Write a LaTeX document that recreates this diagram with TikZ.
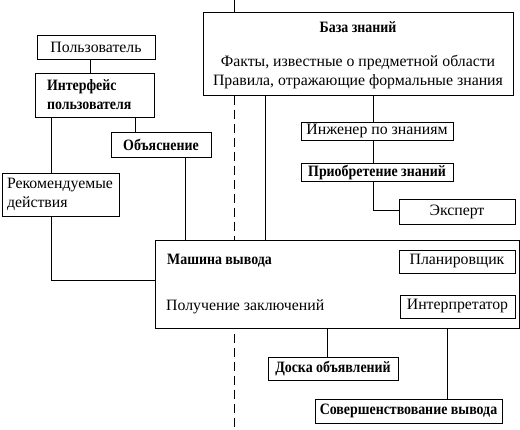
\documentclass[tikz,border=0pt]{standalone}
\usepackage{fontspec}
\setmainfont{Liberation Serif}
\newfontfamily\condfont{Liberation Serif}[FakeStretch=0.88]
\usepackage{tikz}
\usetikzlibrary{positioning, calc}
\tikzstyle{box} = [rectangle, draw=black, line width=0.8pt, fill=white, inner sep=0pt, text centered, font=\fontsize{15.8}{19}\selectfont]
\tikzstyle{boldbox} = [box, font=\fontsize{15.8}{19}\condfont\bfseries]
\tikzstyle{label} = [inner sep=0pt, font=\fontsize{15.8}{19}\selectfont]
\tikzstyle{link} = [line width=0.8pt]
\tikzstyle{divider} = [line width=0.8pt, dash pattern=on 9pt off 5pt]

\begin{document}
\begin{tikzpicture}[x=1pt, y=-1pt]
\useasboundingbox (0,0) rectangle (520,429);
\coordinate (topend) at (234,0);
\coordinate (bottomend) at (234,429);

% knowledge base
\node (kb) [box, minimum width=310pt, minimum height=83pt] at (358,54) {};
\node (kbtitle) [label, font=\fontsize{15.8}{19}\condfont\bfseries] at (358,27) {База знаний};
\node (kbtext) [label, align=center] at (358,72.5) {Факты, известные о предметной области\\Правила, отражающие формальные знания};

\draw [link] (topend) -- (topend |- kb.north);
\draw [divider] (kb.south -| topend) -- (bottomend);

% user side
\node (user) [box, minimum width=118pt, minimum height=24pt] at (96,47) {Пользователь};
\node (ui) [boldbox, minimum width=119pt, minimum height=44pt, text width=95pt, align=left] at (94.5,95) {Интерфейс\\пользователя};
\node (explain) [boldbox, minimum width=100pt, minimum height=25pt] at (161,144.5) {Объяснение};
\node (rec) [box, minimum width=117pt, minimum height=43pt, text width=107pt, align=left] at (60.5,194.5) {Рекомендуемые\\действия};

% knowledge acquisition
\node (eng) [box, minimum width=152pt, minimum height=18pt] at (377,131) {Инженер по знаниям};
\node (acq) [boldbox, minimum width=152pt, minimum height=18pt] at (377,172.5) {Приобретение знаний};
\node (expert) [box, minimum width=116pt, minimum height=25pt] at (457,211.5) {Эксперт};

% inference engine
\node (infer) [box, minimum width=364pt, minimum height=88pt] at (337,284) {};
\node (infertitle) [label, font=\fontsize{15.8}{19}\condfont\bfseries, anchor=west] at (167,261) {Машина вывода};
\node (infersub) [label, anchor=west] at (166,307) {Получение заключений};
\node (planner) [box, minimum width=116pt, minimum height=23pt] at (457,261.5) {Планировщик};
\node (interp) [box, minimum width=115pt, minimum height=23pt] at (457.5,306.5) {Интерпретатор};

\node (board) [boldbox, minimum width=130pt, minimum height=23pt] at (333,368.5) {Доска объявлений};
\node (refine) [boldbox, minimum width=187pt, minimum height=24pt] at (408.5,411) {Совершенствование вывода};

% connections
\draw [link] (user.south -| 90,0) -- (ui.north -| 90,0);
\draw [link] (ui.south -| 135,0) -- (explain.north -| 135,0);
\draw [link] (ui.south -| 51,0) -- (rec.north -| 51,0);
\draw [link] (explain.south -| 185,0) -- (infer.north -| 185,0);
\draw [link] (rec.south -| 51,0) |- (infer.west |- 0,280);
\draw [link] (kb.south -| 265,0) -- (infer.north -| 265,0);
\draw [link] (kb.south -| 373,0) -- (eng.north -| 373,0);
\draw [link] (eng.south -| 373,0) -- (acq.north -| 373,0);
\draw [link] (acq.south -| 373,0) |- (expert.west |- 0,210);
\draw [link] (infer.south -| 327,0) -- (board.north -| 327,0);
\draw [link] (infer.south -| 447,0) -- (refine.north -| 447,0);
\end{tikzpicture}
\end{document}
